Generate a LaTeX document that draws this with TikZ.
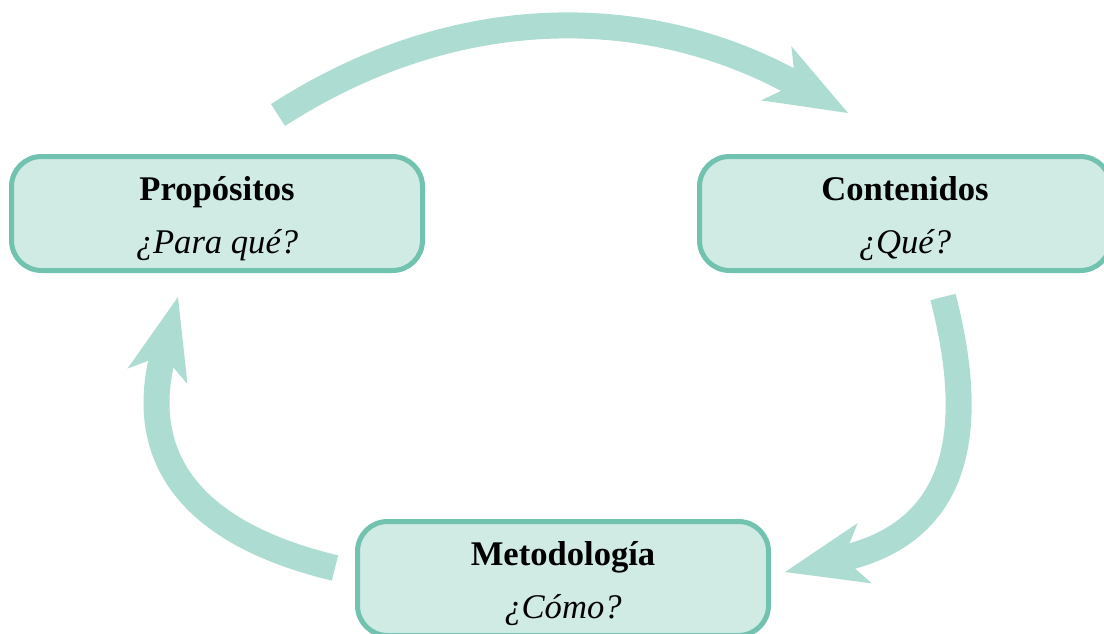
\documentclass[tikz,border=0pt]{standalone}
\usepackage{fontspec}
\setmainfont{Liberation Serif}
\usetikzlibrary{arrows.meta}
\definecolor{flechaverde}{HTML}{ADDCD3}
\definecolor{cajafondo}{HTML}{D0EAE4}
\definecolor{cajaborde}{HTML}{71C3AF}
\newcommand{\alto}{\rule{0pt}{17.5pt}}
\tikzset{
  caja/.style={draw=cajaborde, fill=cajafondo, line width=2.5pt, rounded corners=15pt,
    minimum width=205.5pt, minimum height=57pt, align=center,
    font=\fontsize{17.3}{20.8}\selectfont},
  flecha/.style={draw=flechaverde, line width=13pt,
    -{Stealth[length=41pt, width=31pt, inset=11pt, line width=0pt, fill=flechaverde]}}
}

\begin{document}
\begin{tikzpicture}[x=0.5pt, y=-0.5pt]
    \useasboundingbox (0,0) rectangle (1104,633);

    \node[caja] (prop) at (217,213.5) {\alto\textbf{Propósitos}\\[5.7pt]\textit{¿Para qué?}};
    \node[caja] (cont) at (905,213.5) {\alto\textbf{Contenidos}\\[5.7pt]\textit{¿Qué?}};
    \node[caja] (meto) at (563,578.5) {\alto\textbf{Metodología}\\[5.7pt]\textit{¿Cómo?}};

    \coordinate (a1) at (278,115);
    \coordinate (b1) at (848,113);
    \coordinate (a2) at (943,297);
    \coordinate (b2) at (785,572);
    \coordinate (a3) at (335,568);
    \coordinate (b3) at (178,297);
    \draw[flecha] (a1) .. controls (463,-4) and (655,6) .. (b1);
    \draw[flecha] (a2) .. controls (972,410) and (972,528) .. (b2);
    \draw[flecha] (a3) .. controls (143,522) and (148,413) .. (b3);
\end{tikzpicture}
\end{document}
